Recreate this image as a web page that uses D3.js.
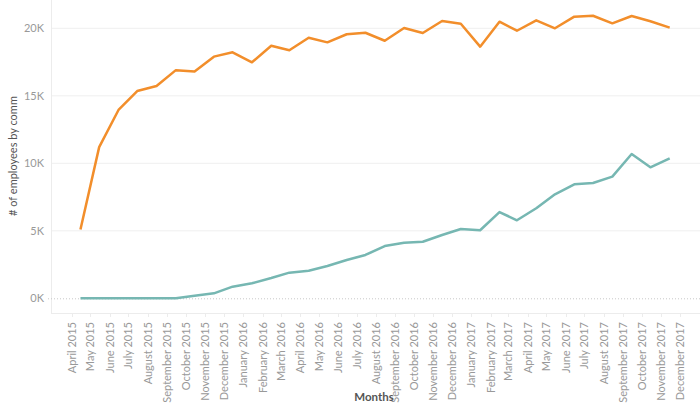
<!DOCTYPE html>
<html>
<head>
<meta charset="utf-8">
<script src="https://cdn.jsdelivr.net/npm/d3@7"></script>
<style>
  html, body { margin: 0; padding: 0; background: #fff; }
  svg { display: block; }
  text { font-family: Lato, "Open Sans", sans-serif; }
</style>
</head>
<body>
<svg id="chart" width="700" height="411"></svg>
<script>
// ---- data ----
const months = [
  "April 2015","May 2015","June 2015","July 2015","August 2015","September 2015",
  "October 2015","November 2015","December 2015","January 2016","February 2016",
  "March 2016","April 2016","May 2016","June 2016","July 2016","August 2016",
  "September 2016","October 2016","November 2016","December 2016","January 2017",
  "February 2017","March 2017","April 2017","May 2017","June 2017","July 2017",
  "August 2017","September 2017","October 2017","November 2017","December 2017"
];
const orangeValues = [
  5100, 11200, 13950, 15350, 15730, 16900, 16800, 17900, 18220, 17480, 18710,
  18370, 19300, 18960, 19560, 19670, 19080, 20020, 19650, 20540, 20340, 18640,
  20490, 19820, 20590, 20000, 20860, 20930, 20370, 20910, 20520, 20050
];
const tealValues = [
  0, 0, 0, 0, 10, 10, 190, 370, 860, 1110, 1500, 1900, 2040, 2390, 2840, 3210,
  3870, 4120, 4190, 4690, 5130, 5040, 6390, 5780, 6670, 7700, 8440, 8540, 9010,
  10690, 9700, 10370
];
const yTicks = [0, 5000, 10000, 15000, 20000];
const yTickLabels = ["0K", "5K", "10K", "15K", "20K"];
const yTitle = "# of employees by comm";
const xTitle = "Months";

// ---- layout ----
const svg = d3.select("#chart");
const W = 700, H = 411;
const plotLeft = 51, plotBottom = 313;

const monthStart = i => new Date(2015, 3 + i, 1);
const monthMid = i => new Date(2015, 3 + i, 15);

const x = d3.scaleTime()
  .domain([new Date(2015, 2, 1), new Date(2018, 0, 1)])
  .range([52.4, 699]);
const y = d3.scaleLinear().domain([0, 20000]).range([298.3, 28.3]);

// gridlines
svg.append("g")
  .selectAll("line")
  .data(yTicks.filter(d => d !== 0))
  .join("line")
  .attr("x1", plotLeft).attr("x2", W)
  .attr("y1", d => y(d)).attr("y2", d => y(d))
  .attr("stroke", "#efefef").attr("stroke-width", 1);

// left axis line
svg.append("line")
  .attr("x1", plotLeft + 0.5).attr("x2", plotLeft + 0.5)
  .attr("y1", 0).attr("y2", plotBottom)
  .attr("stroke", "#ececec");

// bottom axis line
svg.append("line")
  .attr("x1", plotLeft).attr("x2", W)
  .attr("y1", plotBottom + 0.5).attr("y2", plotBottom + 0.5)
  .attr("stroke", "#ececec");

// zero line (dotted)
svg.append("line")
  .attr("x1", 48).attr("x2", W)
  .attr("y1", y(0) + 0.5).attr("y2", y(0) + 0.5)
  .attr("stroke", "#c8c8c8").attr("stroke-width", 1)
  .attr("stroke-dasharray", "1,2");

// y tick labels
svg.append("g")
  .selectAll("text")
  .data(yTicks)
  .join("text")
  .attr("x", 44)
  .attr("y", d => y(d))
  .attr("dy", "0.35em")
  .attr("text-anchor", "end")
  .attr("fill", "#999")
  .attr("font-size", 11)
  .text((d, i) => yTickLabels[i]);

// y title
svg.append("text")
  .attr("transform", `translate(17,156) rotate(-90)`)
  .attr("text-anchor", "middle")
  .attr("fill", "#555")
  .attr("font-size", 11)
  .text(yTitle);

// x ticks
svg.append("g")
  .selectAll("line")
  .data(months)
  .join("line")
  .attr("x1", (d, i) => Math.round(x(monthStart(i))) + 0.5)
  .attr("x2", (d, i) => Math.round(x(monthStart(i))) + 0.5)
  .attr("y1", plotBottom).attr("y2", plotBottom + 4)
  .attr("stroke", "#ececec");

// x labels
svg.append("g")
  .selectAll("text")
  .data(months)
  .join("text")
  .attr("transform", (d, i) => `translate(${x(monthStart(i)) + 4},322) rotate(-90)`)
  .attr("text-anchor", "end")
  .attr("fill", "#999")
  .attr("font-size", 11)
  .text(d => d);

// x title
svg.append("text")
  .attr("x", 374).attr("y", 401)
  .attr("text-anchor", "middle")
  .attr("fill", "#555")
  .attr("font-size", 11.5)
  .attr("font-weight", "bold")
  .text(xTitle);

// lines
const line = d3.line()
  .x((d, i) => x(monthMid(i)))
  .y(d => y(d));

svg.append("path")
  .datum(tealValues)
  .attr("fill", "none")
  .attr("stroke", "#76B7B2")
  .attr("stroke-width", 2.5)
  .attr("stroke-linejoin", "round")
  .attr("d", line);

svg.append("path")
  .datum(orangeValues)
  .attr("fill", "none")
  .attr("stroke", "#F28E2B")
  .attr("stroke-width", 2.5)
  .attr("stroke-linejoin", "round")
  .attr("d", line);
</script>
</body>
</html>
